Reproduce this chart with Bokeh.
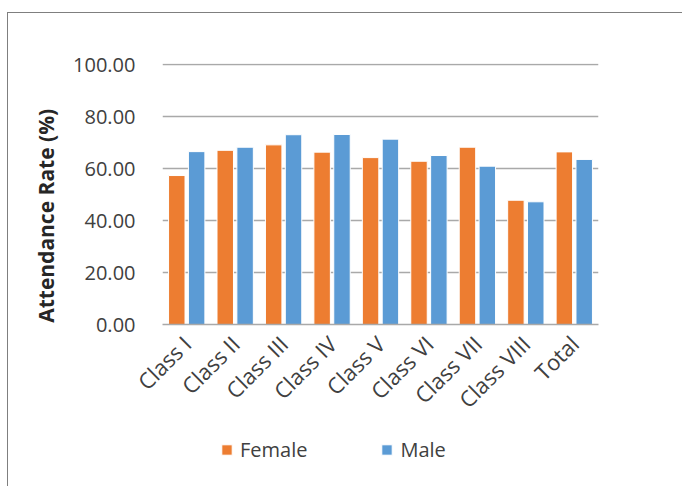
from bokeh.plotting import figure
from bokeh.layouts import column
from bokeh.models import ColumnDataSource, FactorRange, Range1d, Legend, LegendItem, NumeralTickFormatter, FixedTicker
from bokeh.transform import dodge
from bokeh.embed import file_html
from bokeh.resources import INLINE
import math

categories = ["Class I", "Class II", "Class III", "Class IV", "Class V",
              "Class VI", "Class VII", "Class VIII", "Total"]
female = [57.3, 67.0, 69.1, 66.3, 64.2, 62.8, 68.2, 47.8, 66.4]
male = [66.5, 68.2, 73.0, 73.1, 71.3, 65.0, 60.9, 47.2, 63.5]
y_ticks = [0, 20, 40, 60, 80, 100]

FONT = "Open Sans"
TXT = "#404040"
ORANGE = "#ED7D31"
BLUE = "#5B9BD5"

src = ColumnDataSource(dict(cat=categories, female=female, male=male))

p = figure(width=674, height=415, x_range=FactorRange(*categories, range_padding=0),
           y_range=Range1d(0, 100.4), output_backend="svg", toolbar_location=None,
           min_border_left=154, min_border_right=84, min_border_top=50, min_border_bottom=104)
p.outline_line_color = None

p.vbar(x=dodge("cat", -0.205, range=p.x_range), top="female", width=0.34, source=src,
       fill_color=ORANGE, line_color="white", line_width=1)
p.vbar(x=dodge("cat", 0.205, range=p.x_range), top="male", width=0.34, source=src,
       fill_color=BLUE, line_color="white", line_width=1)

p.xgrid.grid_line_color = None
p.ygrid.grid_line_color = "#A9A9A9"
p.ygrid.grid_line_width = 1.5
p.yaxis.ticker = FixedTicker(ticks=y_ticks)
p.yaxis.formatter = NumeralTickFormatter(format="0.00")
p.yaxis.axis_line_color = None
p.yaxis.major_tick_line_color = None
p.yaxis.minor_tick_line_color = None
p.yaxis.major_tick_out = 0
p.yaxis.major_tick_in = 0
p.yaxis.major_label_standoff = 27
p.yaxis.major_label_text_font = FONT
p.yaxis.major_label_text_font_size = "20px"
p.yaxis.major_label_text_color = TXT
# trailing non-breaking spaces shift the centred title down, as in the reference
p.yaxis.axis_label = "Attendance Rate (%)" + "\u00a0" * 8
p.yaxis.axis_label_text_font = FONT
p.yaxis.axis_label_text_font_size = "21px"
p.yaxis.axis_label_text_font_style = "bold"
p.yaxis.axis_label_text_color = "#262626"
p.yaxis.axis_label_standoff = 10

p.xaxis.axis_line_color = "#A9A9A9"
p.xaxis.axis_line_width = 1.5
p.xaxis.major_tick_line_color = None
p.xaxis.minor_tick_line_color = None
p.xaxis.major_tick_out = 0
p.xaxis.major_tick_in = 0
p.xaxis.major_label_orientation = math.pi / 4
p.xaxis.major_label_standoff = 15
p.xaxis.major_label_text_font = FONT
p.xaxis.major_label_text_font_size = "22px"
p.xaxis.major_label_text_color = TXT

# legend strip below the chart (its bars lie outside its visible range; only the legend shows)
p2 = figure(width=674, height=58, x_range=FactorRange(*categories, range_padding=0),
            y_range=Range1d(500, 600), output_backend="svg", toolbar_location=None,
            x_axis_location=None, y_axis_location=None, min_border=0)
p2.outline_line_color = None
p2.grid.grid_line_color = None
lf = p2.vbar(x="cat", top="female", width=0.34, source=src, fill_color=ORANGE, line_color="white")
lm = p2.vbar(x="cat", top="male", width=0.34, source=src, fill_color=BLUE, line_color="white")
legend = Legend(items=[LegendItem(label="Female", renderers=[lf]),
                       LegendItem(label="Male", renderers=[lm])],
                location=(58, 23), orientation="horizontal",
                glyph_width=13, glyph_height=13, label_standoff=7, spacing=73,
                padding=0, margin=0, border_line_color=None, background_fill_alpha=0,
                label_text_font=FONT, label_text_font_size="20px", label_text_color=TXT)
p2.add_layout(legend, "center")

layout = column(p, p2, spacing=0,
                styles={"border-left": "1px solid #7f7f7f", "border-top": "1px solid #7f7f7f",
                        "margin-top": "12px", "margin-left": "7px"})

open("out.html", "w").write(file_html(layout, INLINE))
